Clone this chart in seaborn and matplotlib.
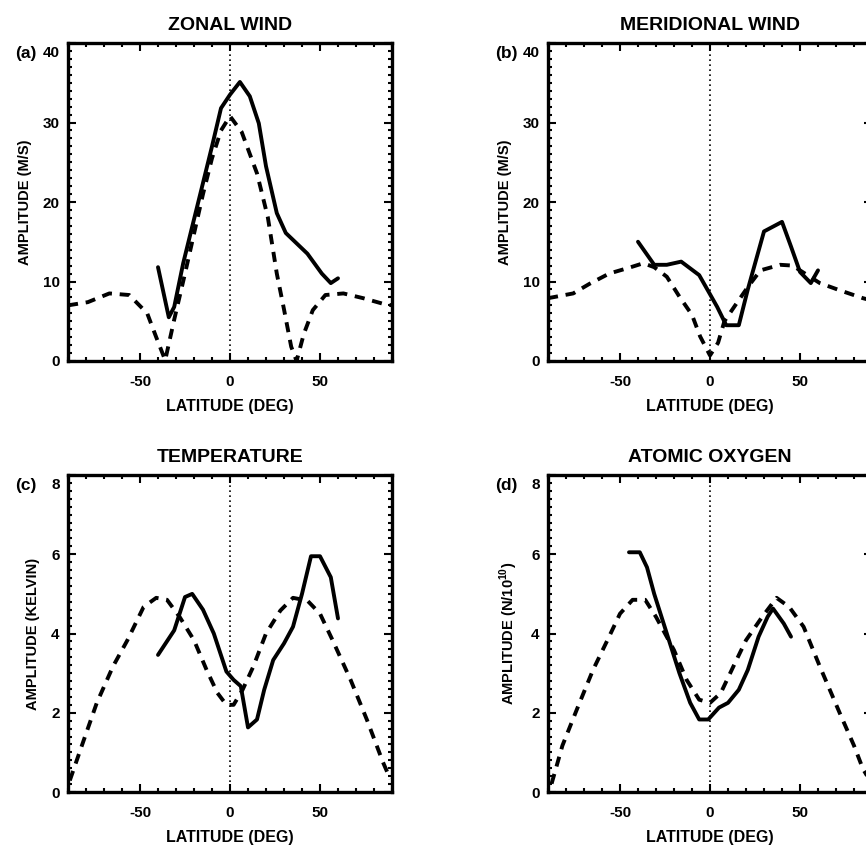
import numpy as np
import pandas as pd
import seaborn as sns
import matplotlib
matplotlib.use("Agg")
import matplotlib.pyplot as plt
from matplotlib.ticker import MultipleLocator, FuncFormatter

# ---- (a) zonal wind amplitude (m/s) ----
zonal_obs_lat = [-40, -34, -31, -26, -21, -15, -10, -5, 0, 5.5, 11, 16, 20, 26, 31, 43, 51, 56, 60]
zonal_obs_amp = [11.8, 5.5, 6.8, 12.3, 16.9, 22.4, 27.0, 31.8, 33.5, 35.1, 33.3, 29.9, 24.5, 18.6, 16.1, 13.5, 11.0, 9.8, 10.4]
zonal_mod_lat = [-90, -79, -67, -56, -46, -41, -36, -31, -25, -20, -15, -10, -5, 0, 6.5, 15, 21,
                 26, 30, 34, 37, 41, 46, 53, 63, 74, 85, 90]
zonal_mod_amp = [7.0, 7.4, 8.5, 8.3, 6.0, 3.0, 0.1, 5.2, 11.0, 16.0, 21.0, 25.5, 29.0, 30.8, 28.8, 23.6, 18.1,
                 11.0, 6.5, 1.8, 0.0, 3.4, 6.4, 8.3, 8.5, 7.9, 7.2, 7.0]

# ---- (b) meridional wind amplitude (m/s) ----
merid_obs_lat = [-40, -31, -24, -16, -6, 4, 9, 16, 21, 30, 40, 45, 50, 56, 60]
merid_obs_amp = [15.0, 12.1, 12.1, 12.5, 10.8, 6.8, 4.5, 4.5, 9.0, 16.3, 17.5, 14.4, 11.2, 9.8, 11.4]
merid_mod_lat = [-90, -76, -67, -56, -44, -37, -31, -24, -17, -10, -5.5, 0, 4.5, 8, 14, 21, 28, 39, 46,
                 50, 61, 72, 85, 90]
merid_mod_amp = [7.9, 8.5, 9.7, 11.0, 11.8, 12.3, 11.8, 10.6, 8.1, 5.8, 3.1, 0.7, 2.3, 5.0, 7.0, 9.3, 11.4, 12.1, 12.0,
                 11.4, 9.8, 8.9, 7.9, 7.6]

# ---- (c) temperature amplitude (K) ----
temp_obs_lat = [-40, -31, -25, -21, -15, -9, -2, 2, 6, 10, 15, 19, 24, 30, 35, 40, 45, 50, 56, 60]
temp_obs_amp = [3.46, 4.08, 4.92, 5.0, 4.6, 4.0, 3.04, 2.83, 2.67, 1.63, 1.83, 2.58, 3.33, 3.75, 4.17, 5.0,
                5.95, 5.95, 5.42, 4.38]
temp_mod_lat = [-89, -83, -74, -65, -57, -48, -41, -35, -28, -20, -13, -7, -2, 2, 7, 13, 20, 28, 35, 43,
                50, 57, 67, 76, 85, 89]
temp_mod_amp = [0.29, 1.08, 2.25, 3.17, 3.83, 4.67, 4.9, 4.85, 4.42, 3.83, 3.08, 2.5, 2.2, 2.2, 2.58, 3.17,
                4.0, 4.58, 4.9, 4.83, 4.5, 3.83, 2.83, 1.83, 0.75, 0.33]

# ---- (d) atomic oxygen amplitude (N/1e10) ----
oxy_obs_lat = [-45, -39, -35, -31, -24, -17, -11, -6, -1, 5, 10, 16, 21, 27, 32, 35, 41, 45]
oxy_obs_amp = [6.05, 6.05, 5.67, 5.0, 4.0, 3.0, 2.25, 1.83, 1.83, 2.13, 2.25, 2.58, 3.08, 3.92, 4.42, 4.63,
               4.25, 3.92]
oxy_mod_lat = [-88, -82, -74, -65, -57, -50, -43, -36, -30, -20, -13, -6, 0, 6, 13, 20, 29, 37, 44, 52,
               61, 72, 80, 85, 90]
oxy_mod_amp = [0.21, 1.17, 2.08, 3.08, 3.83, 4.5, 4.85, 4.85, 4.42, 3.58, 2.83, 2.33, 2.25, 2.5, 3.17, 3.83,
               4.42, 4.9, 4.67, 4.17, 3.17, 2.0, 1.17, 0.58, 0.2]

titles = ["ZONAL WIND", "MERIDIONAL WIND", "TEMPERATURE", "ATOMIC OXYGEN"]
tags = ["(a)", "(b)", "(c)", "(d)"]
ylabels = ["AMPLITUDE (M/S)", "AMPLITUDE (M/S)", "AMPLITUDE (KELVIN)", r"AMPLITUDE (N/10$^{\mathbf{10}}$)"]
xticks = [-50, 0, 50]

panels = [
    (zonal_obs_lat, zonal_obs_amp, zonal_mod_lat, zonal_mod_amp, 40, 10, 1),
    (merid_obs_lat, merid_obs_amp, merid_mod_lat, merid_mod_amp, 40, 10, 1),
    (temp_obs_lat, temp_obs_amp, temp_mod_lat, temp_mod_amp, 8, 2, 0.2),
    (oxy_obs_lat, oxy_obs_amp, oxy_mod_lat, oxy_mod_amp, 8, 2, 0.2),
]

sns.set_style("ticks")
plt.rcParams["font.family"] = ["Liberation Sans", "DejaVu Sans"]
plt.rcParams["mathtext.fontset"] = "custom"
plt.rcParams["mathtext.bf"] = "Liberation Sans:bold"
plt.rcParams["mathtext.rm"] = "Liberation Sans"
plt.rcParams["axes.unicode_minus"] = False
for key in ["text.color", "axes.labelcolor", "xtick.color", "ytick.color", "axes.edgecolor"]:
    plt.rcParams[key] = "black"

fig = plt.figure(figsize=(8.66, 8.5), dpi=100)
W, H = 866, 850
rects = [(68, 43, 324, 318), (548, 43, 324, 318), (68, 475, 324, 317), (548, 475, 324, 317)]

for i, (rect, p) in enumerate(zip(rects, panels)):
    x0, y0, w, h = rect
    ax = fig.add_axes([x0 / W, 1 - (y0 + h) / H, w / W, h / H])
    olat, oamp, mlat, mamp, ymax, ymaj, ymin = p

    obs = pd.DataFrame({"lat": olat, "amp": oamp})
    mod = pd.DataFrame({"lat": mlat, "amp": mamp})

    ax.axvline(0, color="black", lw=1.2, ls=(0, (1, 2.0)), zorder=1)
    sns.lineplot(data=mod, x="lat", y="amp", ax=ax, color="black", lw=2.8,
                 estimator=None, sort=False, zorder=2)
    ax.lines[-1].set_dashes([2.6, 2.0])
    sns.lineplot(data=obs, x="lat", y="amp", ax=ax, color="black", lw=2.8,
                 estimator=None, sort=False, zorder=3)

    ax.set_xlim(-90, 90)
    ax.set_ylim(0, ymax)
    ax.set_xticks(xticks)
    ax.xaxis.set_minor_locator(MultipleLocator(10))
    ax.yaxis.set_major_locator(MultipleLocator(ymaj))
    ax.yaxis.set_minor_locator(MultipleLocator(ymin))
    # the top value is written separately, a little below the frame corner
    ax.yaxis.set_major_formatter(FuncFormatter(
        lambda v, pos, top=ymax: "" if abs(v - top) < 1e-9 else f"{v:g}"))
    ax.tick_params(which="both", direction="in", top=True, right=True, width=1.5,
                   labelsize=11)
    ax.tick_params(axis="x", pad=10)
    ax.tick_params(axis="y", pad=6)
    ax.tick_params(which="major", length=6)
    ax.tick_params(which="minor", length=3)
    for lab in ax.get_xticklabels() + ax.get_yticklabels():
        lab.set_fontweight("bold")
    ax.annotate(f"{ymax:g}", xy=(0, ymax), xycoords=("axes fraction", "data"),
                xytext=(-6, -7), textcoords="offset points", ha="right", va="center",
                fontsize=11, fontweight="bold")
    for s in ax.spines.values():
        s.set_linewidth(2.4)
        s.set_visible(True)

    ax.set_xlabel("LATITUDE (DEG)", fontsize=11.5, fontweight="bold", labelpad=7)
    ax.set_ylabel(ylabels[i], fontsize=10.5, fontweight="bold", labelpad=8)
    ax.set_title(titles[i], fontsize=14, fontweight="bold", pad=9)
    ax.text(-0.13, 0.99, tags[i], transform=ax.transAxes, fontsize=12.5,
            fontweight="bold", ha="center", va="top")

fig.savefig("out.png", dpi=100)
